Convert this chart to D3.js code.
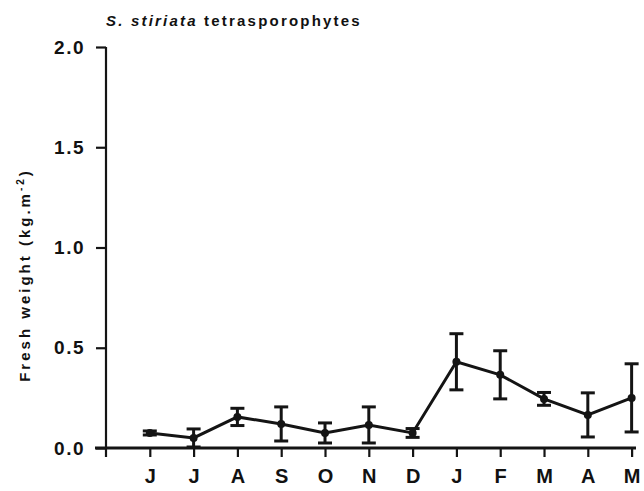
<!DOCTYPE html>
<meta charset="utf-8">
<head>
<title>S. stiriata tetrasporophytes</title>
<script src="https://cdnjs.cloudflare.com/ajax/libs/d3/7.8.5/d3.min.js"></script>
<style type="text/css">
body {margin: 0; background: #fff;}
text {font-family: "Liberation Sans", Arial, sans-serif; font-weight: bold; fill: #111;}
</style>
</head>
<body>
<script>
// data
var months  = ["J", "J", "A", "S", "O", "N", "D", "J", "F", "M", "A", "M"];
var means   = [0.075, 0.05, 0.155, 0.12, 0.075, 0.115, 0.075, 0.43, 0.365, 0.245, 0.165, 0.25];
var errs    = [0.01, 0.045, 0.043, 0.085, 0.05, 0.09, 0.022, 0.14, 0.12, 0.032, 0.11, 0.17];
var yTicks  = [0, 0.5, 1.0, 1.5, 2.0];

var width  = 644,
    height = 491;

var svg = d3.select("body").append("svg")
  .attr("width", width)
  .attr("height", height);

var x = d3.scaleLinear().domain([-1, 11.1]).range([106, 636]);
var y = d3.scaleLinear().domain([0, 2]).range([448, 47]);

var ink = "#141414";
var fam = "Liberation Sans, Arial, sans-serif";

// y axis
var yAxis = d3.axisLeft(y)
  .tickValues(yTicks)
  .tickFormat(d3.format(".1f"))
  .tickSize(10)
  .tickPadding(11);

var gy = svg.append("g")
  .attr("transform", "translate(106,0)")
  .call(yAxis);
gy.select(".domain").attr("d", "M0,47V457").attr("stroke", ink).attr("stroke-width", 2.2);
gy.selectAll(".tick line").attr("stroke", ink).attr("stroke-width", 2.2);
gy.selectAll(".tick text")
  .style("font-size", "19px").style("font-family", fam).style("font-weight", "bold")
  .style("letter-spacing", "1.5px").attr("fill", ink);

// x axis
var xAxis = d3.axisBottom(x)
  .tickValues(d3.range(months.length))
  .tickFormat(function(i) { return months[i]; })
  .tickSize(9)
  .tickPadding(12);

var gx = svg.append("g")
  .attr("transform", "translate(0,448)")
  .call(xAxis);
gx.select(".domain").attr("d", "M95,0H636").attr("stroke", ink).attr("stroke-width", 3);
gx.selectAll(".tick line").attr("stroke", ink).attr("stroke-width", 2.2);
gx.selectAll(".tick text")
  .style("font-size", "20px").style("font-family", fam).style("font-weight", "bold")
  .attr("fill", ink);

// error bars
var bars = svg.append("g").selectAll("g")
  .data(means)
  .enter().append("g")
  .attr("stroke", ink)
  .attr("stroke-width", 3);

bars.append("line")
  .attr("x1", function(d, i) { return x(i); })
  .attr("x2", function(d, i) { return x(i); })
  .attr("y1", function(d, i) { return y(d + errs[i]); })
  .attr("y2", function(d, i) { return y(Math.max(0, d - errs[i])); });

bars.append("line")
  .attr("x1", function(d, i) { return x(i) - 7; })
  .attr("x2", function(d, i) { return x(i) + 7; })
  .attr("y1", function(d, i) { return y(d + errs[i]); })
  .attr("y2", function(d, i) { return y(d + errs[i]); });

bars.append("line")
  .attr("x1", function(d, i) { return x(i) - 7; })
  .attr("x2", function(d, i) { return x(i) + 7; })
  .attr("y1", function(d, i) { return y(Math.max(0, d - errs[i])); })
  .attr("y2", function(d, i) { return y(Math.max(0, d - errs[i])); });

// line and points
var line = d3.line()
  .x(function(d, i) { return x(i); })
  .y(function(d) { return y(d); });

svg.append("path")
  .datum(means)
  .attr("d", line)
  .attr("fill", "none")
  .attr("stroke", ink)
  .attr("stroke-width", 3);

svg.append("g").selectAll("circle")
  .data(means)
  .enter().append("circle")
  .attr("cx", function(d, i) { return x(i); })
  .attr("cy", function(d) { return y(d); })
  .attr("r", 4)
  .attr("fill", ink);

// title
var title = svg.append("text")
  .attr("x", 106)
  .attr("y", 26)
  .style("font-size", "15px")
  .style("letter-spacing", "2.2px");
title.append("tspan").style("font-style", "italic").text("S. stiriata");
title.append("tspan").text(" tetrasporophytes");

// y label
var yl = svg.append("text")
  .attr("transform", "translate(30,275) rotate(-90)")
  .attr("text-anchor", "middle")
  .style("font-size", "15px")
  .style("letter-spacing", "3px");
yl.append("tspan").text("Fresh weight (kg.m");
yl.append("tspan").attr("dy", -6).style("font-size", "10px").text("-2");
yl.append("tspan").attr("dy", 6).text(")");
</script>
</body>
